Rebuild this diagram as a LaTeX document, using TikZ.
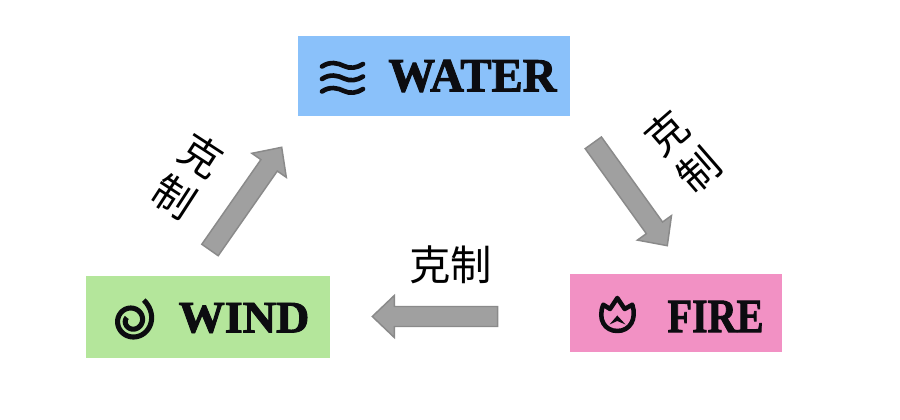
\documentclass[tikz,border=0pt]{standalone}
\usepackage{fontspec}
\usetikzlibrary{calc}
\setmainfont{Liberation Serif}
\newfontfamily\cjk{Noto Sans CJK SC}
\newfontfamily\titlefont[FakeBold=2]{Liberation Serif Bold}
\definecolor{waterblue}{HTML}{8AC1FA}
\definecolor{windgreen}{HTML}{B4E69B}
\definecolor{firepink}{HTML}{F291C4}
\definecolor{arrowfill}{HTML}{A0A0A0}
\definecolor{arrowline}{HTML}{8A8A8A}
\definecolor{inkblack}{HTML}{0C0C10}
\tikzset{
  box/.style={draw=none,inner sep=0pt,anchor=north west},
  blockarrow/.style={fill=arrowfill,draw=arrowline,line width=1.1pt,line join=miter},
  caption/.style={inner sep=0pt,text=black,font=\cjk\fontsize{31}{37}\selectfont,align=center},
  title/.style={inner sep=0pt,text=inkblack,font=\titlefont},
  iconline/.style={draw=inkblack,line cap=round,line join=round,fill=none},
}
\newcommand{\blockarrow}[2]{%
  \coordinate (neck) at ($(#2)!16.5pt!(#1)$);
  \draw[blockarrow]
    ($(#1)!7.5pt!90:(#2)$) -- ($(neck)!7.5pt!90:(#2)$) -- ($(neck)!15.75pt!90:(#2)$)
    -- (#2)
    -- ($(neck)!15.75pt!-90:(#2)$) -- ($(neck)!7.5pt!-90:(#2)$) -- ($(#1)!7.5pt!-90:(#2)$) -- cycle;
}
\begin{document}
\begin{tikzpicture}[x=0.75pt,y=-0.75pt]
\useasboundingbox (0,0) rectangle (900,420);
% boxes
\node[box,fill=waterblue,minimum width=204pt,minimum height=60pt] (water) at (298,36) {};
\node[box,fill=windgreen,minimum width=182.5pt,minimum height=61.3pt] (wind) at (86,276) {};
\node[box,fill=firepink,minimum width=158.8pt,minimum height=58.5pt] (fire) at (570,274) {};
% titles
\node[title] (watertitle) at (472.5,76) {\resizebox{126pt}{23.5pt}{WATER}};
\node[title] (windtitle) at (244,318) {\resizebox{98pt}{22pt}{WIND}};
\node[title] (firetitle) at (715.5,316.5) {\resizebox{72pt}{23.5pt}{FIRE}};
% water icon
\foreach \dy in {0,12.5,25}
  \draw[iconline,line width=3.5pt] (322,66.5+\dy) .. controls (330,61+\dy) and (338,63+\dy) .. (344,66+\dy)
     .. controls (350,69+\dy) and (357,68+\dy) .. (363,64+\dy);
% wind icon
\draw[iconline,line width=3.8pt,line cap=butt,smooth] plot[domain=60:-570,samples=120]
  ({132+(6+13.5*((\x+570)/630)+4*((\x+570)/630)^12)*cos(\x)},{320.5-(6+13.5*((\x+570)/630)+4*((\x+570)/630)^12)*sin(\x)});
% fire icon
\draw[iconline,line width=3.4pt] (603.3,304.7) -- (610,309) -- (617.3,298) -- (624.7,309) -- (632.3,304.7)
   .. controls (637,319) and (630,331) .. (617.3,331)
   .. controls (604.5,331) and (597.5,319) .. (603.3,304.7) -- cycle;
\fill[inkblack] (609.5,324.5) -- (617.3,315.5) -- (625.5,324.5) -- (617.3,321) -- cycle;
% arrows
\coordinate (windtail) at (210,250);
\coordinate (watertip) at (281.7,147.3);
\coordinate (watertail) at (593.3,142.8);
\coordinate (firetip) at (667.3,245.7);
\coordinate (firetail) at (497.7,316.5);
\coordinate (windtip) at (372.3,316.5);
\blockarrow{windtail}{watertip}
\blockarrow{watertail}{firetip}
\blockarrow{firetail}{windtip}
% captions
\node[caption] (captionbottom) at (450.5,265) {克制};
\node[caption,rotate=-33] (captionleft) at (188,176) {克\\制};
\node[caption,rotate=41] (captionright) at (682.5,151.5) {克\\制};
\end{tikzpicture}
\end{document}
